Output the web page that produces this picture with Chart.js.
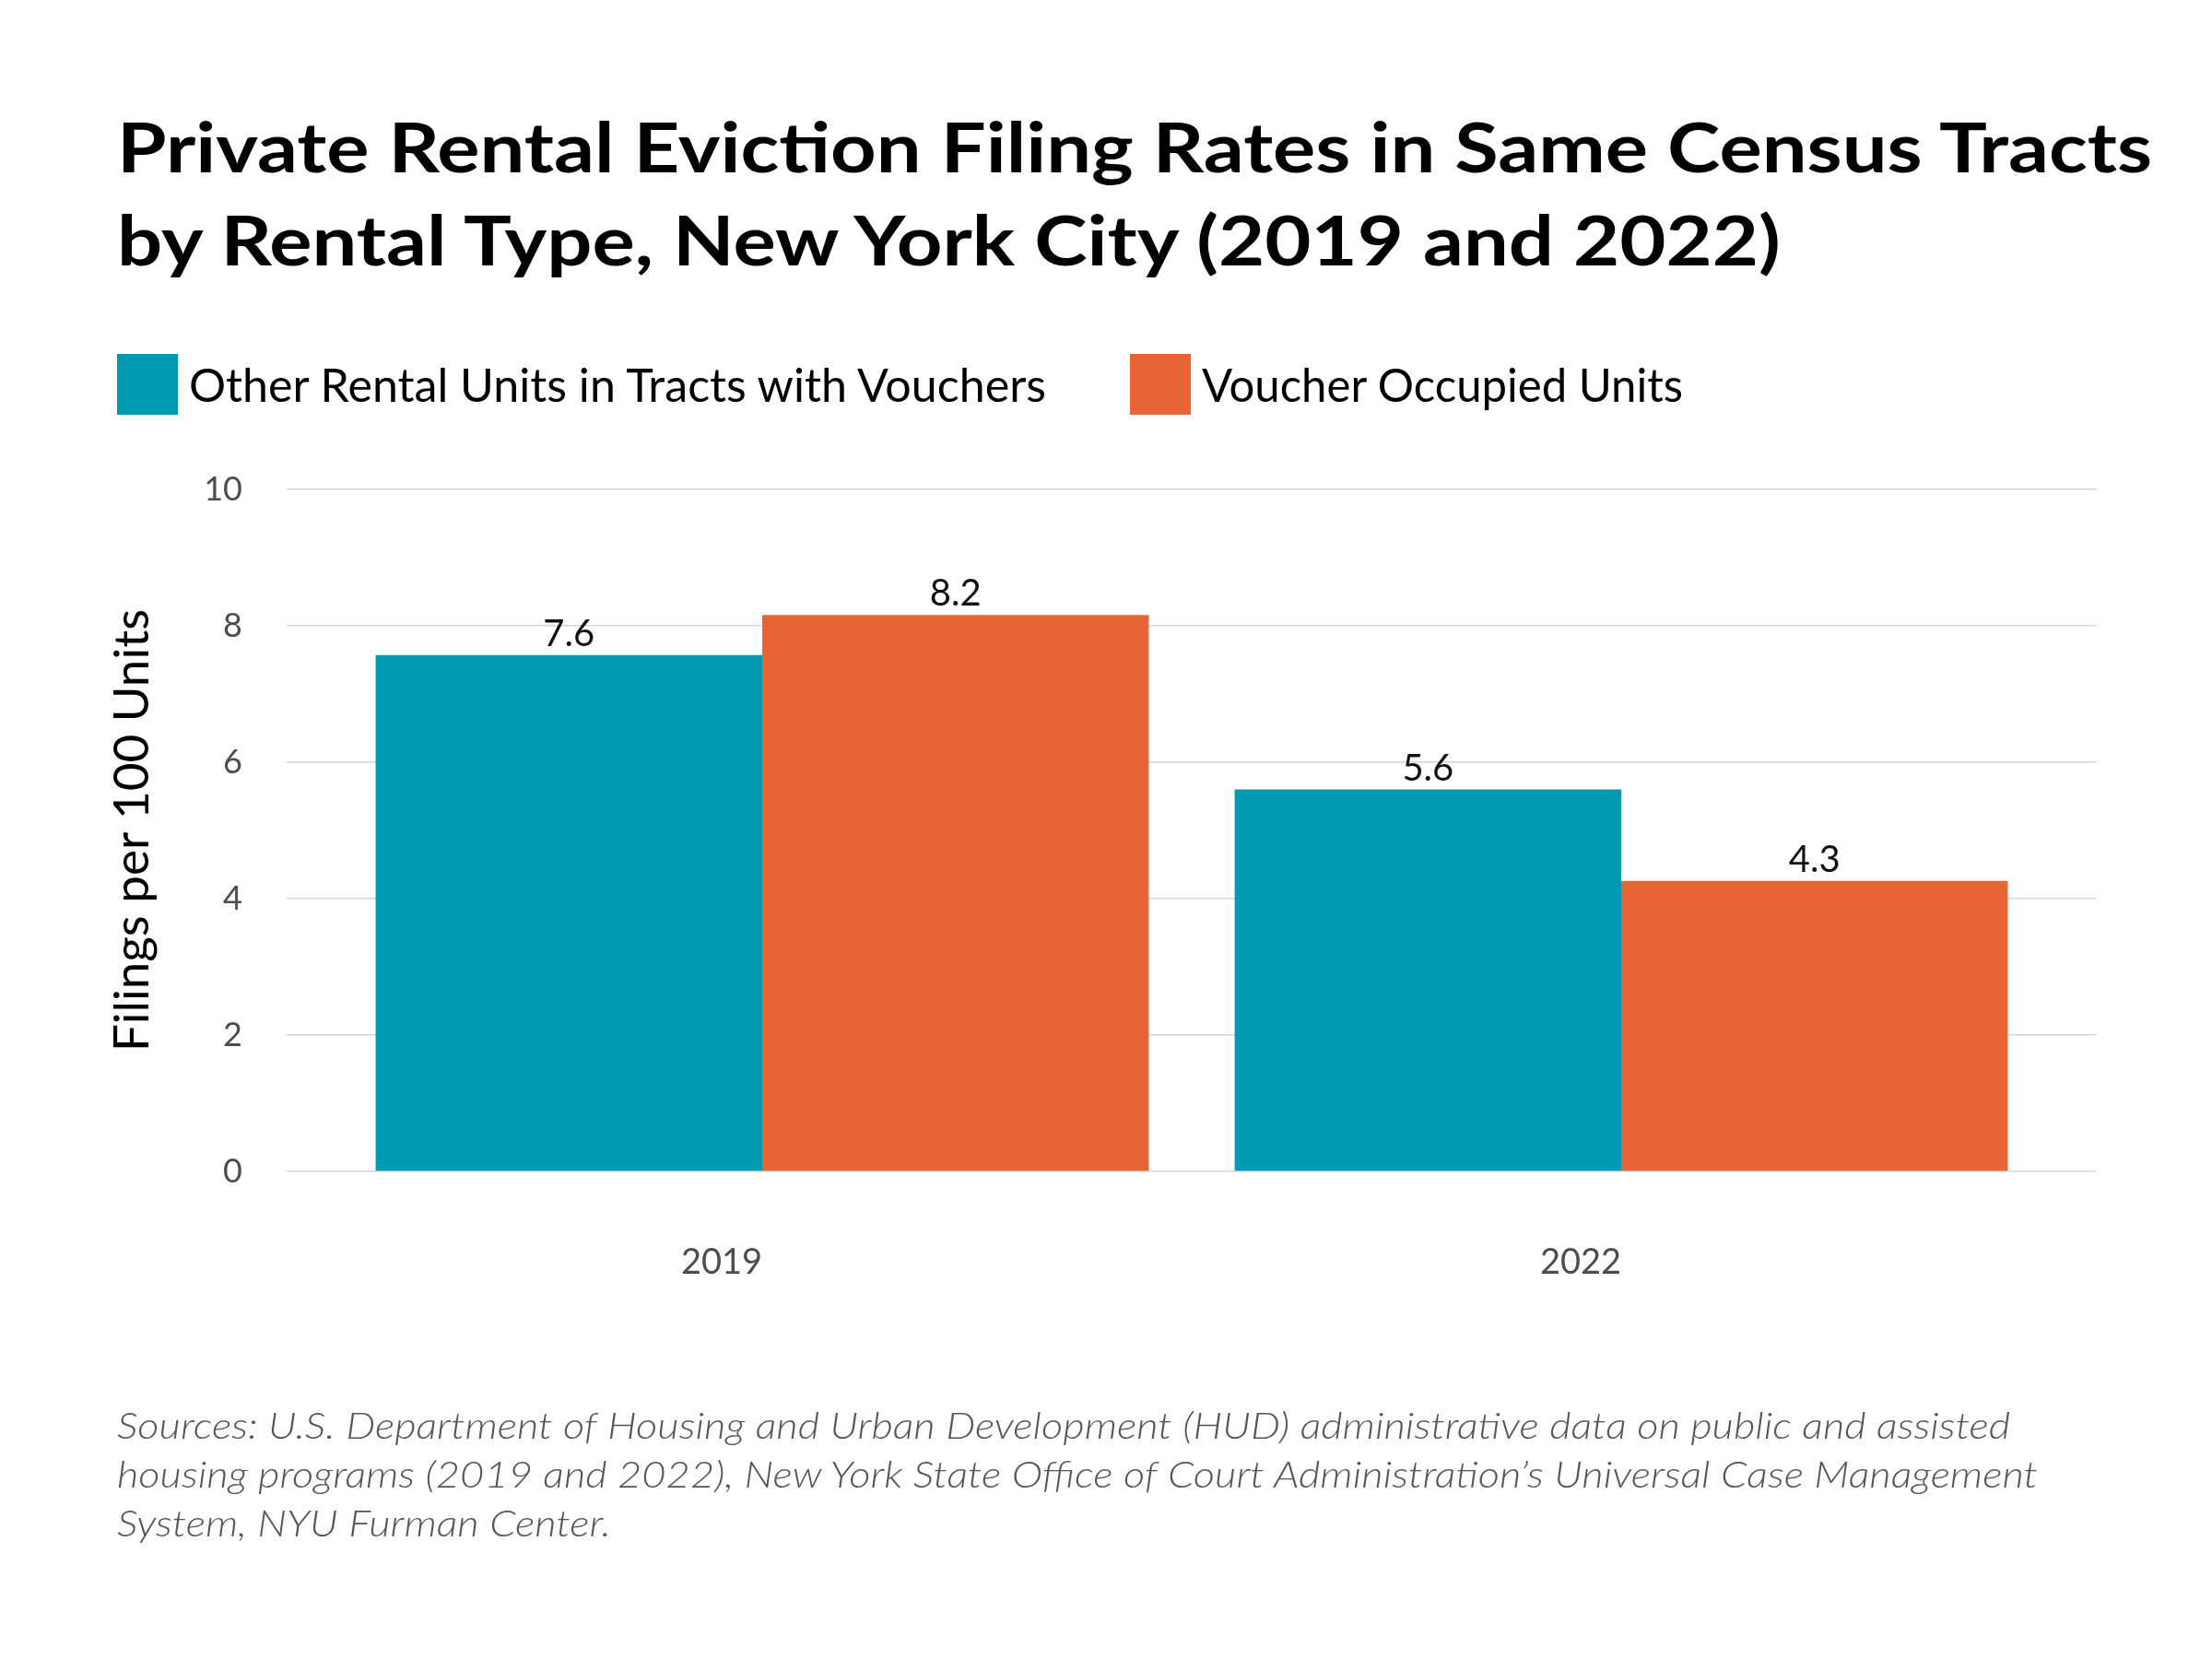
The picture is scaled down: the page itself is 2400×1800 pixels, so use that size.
<!DOCTYPE html>
<html lang="en">
<head>
<meta charset="utf-8">
<script src="https://cdn.jsdelivr.net/npm/chart.js"></script>
<style>
  body { margin: 0; background: #fff; }
  #page { position: relative; width: 2400px; height: 1800px; overflow: hidden; font-family: Lato, sans-serif; background: #fff; }
  #chart { position: absolute; left: 0; top: 0; }
  .title { position: absolute; left: 127px; top: 108px; font-weight: 700; font-size: 75px; line-height: 101px; color: #000; white-space: nowrap; transform-origin: 0 0; }
  .legend-item { position: absolute; top: 384px; height: 66px; display: flex; align-items: center; }
  .swatch { width: 66px; height: 66px; margin-right: 12px; flex: none; }
  .legend-text { font-size: 50px; line-height: 66px; color: #000; white-space: nowrap; transform-origin: 0 0; }
  .source { position: absolute; left: 127px; top: 1520px; font-style: italic; font-weight: 300; font-size: 40px; line-height: 53px; color: #555; white-space: nowrap; transform-origin: 0 0; }
</style>
</head>
<body>
<div id="page">
  <canvas id="chart" width="2400" height="1800" style="width:2400px;height:1800px"></canvas>
  <div class="title" id="title">Private Rental Eviction Filing Rates in Same Census Tracts<br>by Rental Type, New York City (2019 and 2022)</div>
  <div class="source" id="source">Sources: U.S. Department of Housing and Urban Development (HUD) administrative data on public and assisted<br>housing programs (2019 and 2022), New York State Office of Court Administration’s Universal Case Management<br>System, NYU Furman Center.</div>
</div>

<script>
  // data
  const years = ['2019', '2022'];
  const otherUnits = [7.57, 5.60];
  const voucherUnits = [8.16, 4.26];
  const seriesNames = ['Other Rental Units in Tracts with Vouchers', 'Voucher Occupied Units'];
  const seriesColors = ['#009AB2', '#E66435'];
  const yTicks = [0, 2, 4, 6, 8, 10];

  const page = document.getElementById('page');

  // legend, built from the series
  const legendLeft = [127, 1226];
  const legendWidths = [930, 522];
  const legendTexts = [];
  seriesNames.forEach((name, i) => {
    const item = document.createElement('div');
    item.className = 'legend-item';
    item.style.left = legendLeft[i] + 'px';
    const sw = document.createElement('span');
    sw.className = 'swatch';
    sw.style.background = seriesColors[i];
    const txt = document.createElement('span');
    txt.className = 'legend-text';
    txt.textContent = name;
    item.appendChild(sw);
    item.appendChild(txt);
    page.appendChild(item);
    legendTexts.push(txt);
  });

  // squeeze text horizontally to the reference width (the original font is condensed)
  function fitWidth(el, target) {
    const w = el.getBoundingClientRect().width;
    el.style.transform = 'scaleX(' + (target / w) + ')';
  }

  const barLabels = {
    id: 'barLabels',
    afterDatasetsDraw(chart) {
      const ctx = chart.ctx;
      ctx.save();
      ctx.font = '40px Lato, sans-serif';
      ctx.fillStyle = '#111';
      ctx.textAlign = 'center';
      ctx.textBaseline = 'alphabetic';
      chart.data.datasets.forEach((ds, i) => {
        chart.getDatasetMeta(i).data.forEach((bar, j) => {
          ctx.fillText(ds.data[j].y.toFixed(1), bar.x, bar.y - 10);
        });
      });
      ctx.restore();
    }
  };

  Chart.defaults.font.family = 'Lato, sans-serif';

  function draw() {
    fitWidth(document.getElementById('title'), 2208);
    fitWidth(document.getElementById('source'), 2084);
    legendTexts.forEach((t, i) => fitWidth(t, legendWidths[i]));

    new Chart(document.getElementById('chart'), {
      type: 'bar',
      data: {
        datasets: [otherUnits, voucherUnits].map((vals, i) => ({
          label: seriesNames[i],
          data: vals.map((v, j) => ({x: j, y: v})),
          backgroundColor: seriesColors[i],
          borderWidth: 0,
          categoryPercentage: 0.9,
          barPercentage: 1.0
        }))
      },
      options: {
        responsive: false,
        animation: false,
        devicePixelRatio: 1,
        layout: {padding: {top: 531, right: 125, bottom: 0, left: 0}},
        plugins: {legend: {display: false}, tooltip: {enabled: false}},
        scales: {
          x: {
            type: 'linear',
            min: -0.5536,
            max: 1.5536,
            offset: false,
            grid: {display: false, drawTicks: false},
            border: {display: false},
            afterBuildTicks: s => { s.ticks = years.map((y, i) => ({value: i})); },
            ticks: {
              callback: v => years[v],
              labelOffset: -44,
              padding: 76,
              color: '#4d4d4d',
              font: {size: 38},
              maxRotation: 0,
              autoSkip: false
            },
            afterFit: s => { s.height = 529; }
          },
          y: {
            min: 0,
            max: 10,
            afterBuildTicks: s => { s.ticks = yTicks.map(v => ({value: v})); },
            grid: {color: '#d6d6d6', lineWidth: 1.5, drawTicks: false},
            border: {display: false},
            ticks: {padding: 48, color: '#4d4d4d', font: {size: 36}},
            title: {
              display: true,
              text: 'Filings per 100 Units',
              color: '#000',
              font: {size: 53},
              padding: {top: 112}
            },
            afterFit: s => { s.width = 311; }
          }
        }
      },
      plugins: [barLabels]
    });
  }

  document.fonts.ready.then(draw);
</script>
</body>
</html>
